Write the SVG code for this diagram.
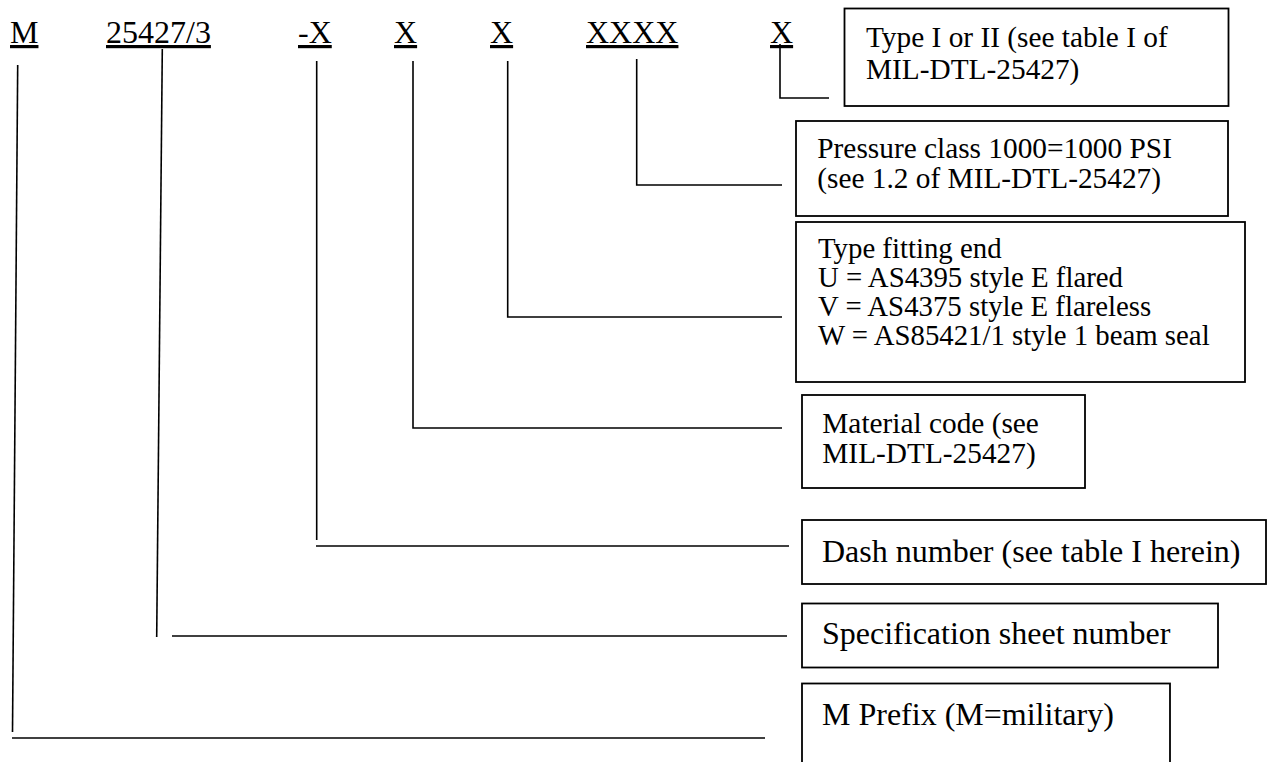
<svg xmlns="http://www.w3.org/2000/svg" width="1272" height="762" viewBox="0 0 1272 762">
<style>
text{font-family:"Liberation Serif","Times New Roman",serif;fill:#000}
.code{font-size:32px;text-decoration:underline}
.lg{font-size:32px}
.sm{font-size:29.33px}
.xs{font-size:28.8px}
.box{fill:#fff;stroke:#000;stroke-width:1.8}
.ln{fill:none;stroke:#000;stroke-width:1.6}
</style>
<rect width="1272" height="762" fill="#fff"/>
<g id="code">
<text class="code" x="10" y="43">M</text>
<text class="code" x="106" y="43">25427/3</text>
<text class="code" x="298" y="43">-X</text>
<text class="code" x="394" y="43">X</text>
<text class="code" x="490" y="43">X</text>
<text class="code" x="586" y="43">XXXX</text>
<text class="code" x="770" y="43">X</text>
</g>
<g id="connectors">
<polyline class="ln" points="780,44 780,98 829,98"/>
<polyline class="ln" points="636.7,59 636.7,185 782,185"/>
<polyline class="ln" points="507.7,61 507.7,317 782,317"/>
<polyline class="ln" points="413,61 413,428 782,428"/>
<line class="ln" x1="316.7" y1="61" x2="316.7" y2="540"/>
<line class="ln" x1="316" y1="546" x2="789" y2="546"/>
<line class="ln" x1="162.3" y1="49" x2="156.7" y2="637"/>
<line class="ln" x1="172" y1="636" x2="787" y2="636"/>
<line class="ln" x1="17.7" y1="65" x2="12.5" y2="732"/>
<line class="ln" x1="12" y1="738" x2="765" y2="738"/>
</g>
<g id="type">
<rect class="box" x="844.5" y="8.5" width="384" height="97.5"/>
<text class="sm" x="866" y="47">Type I or II (see table I of</text>
<text class="sm" x="866" y="79">MIL-DTL-25427)</text>
</g>
<g id="pressure">
<rect class="box" x="796" y="121" width="432" height="95"/>
<text class="sm" x="817.3" y="158.3">Pressure class 1000=1000 PSI</text>
<text class="sm" x="817.3" y="188">(see 1.2 of MIL-DTL-25427)</text>
</g>
<g id="fitting">
<rect class="box" x="796" y="222" width="449" height="160"/>
<text class="xs" x="818" y="258">Type fitting end</text>
<text class="xs" x="818" y="287">U = AS4395 style E flared</text>
<text class="xs" x="818" y="316">V = AS4375 style E flareless</text>
<text class="xs" x="818" y="345">W = AS85421/1 style 1 beam seal</text>
</g>
<g id="material">
<rect class="box" x="802" y="395" width="283" height="93"/>
<text class="sm" x="822.3" y="433.3">Material code (see</text>
<text class="sm" x="822.3" y="462.7">MIL-DTL-25427)</text>
</g>
<g id="dash">
<rect class="box" x="802" y="520" width="464" height="64"/>
<text class="lg" x="822" y="561.7">Dash number (see table I herein)</text>
</g>
<g id="spec">
<rect class="box" x="802" y="603.5" width="416" height="64"/>
<text class="lg" x="822" y="644.3">Specification sheet number</text>
</g>
<g id="prefix">
<rect class="box" x="802" y="683.5" width="368" height="100"/>
<text class="lg" x="822" y="725">M Prefix (M=military)</text>
</g>
</svg>
